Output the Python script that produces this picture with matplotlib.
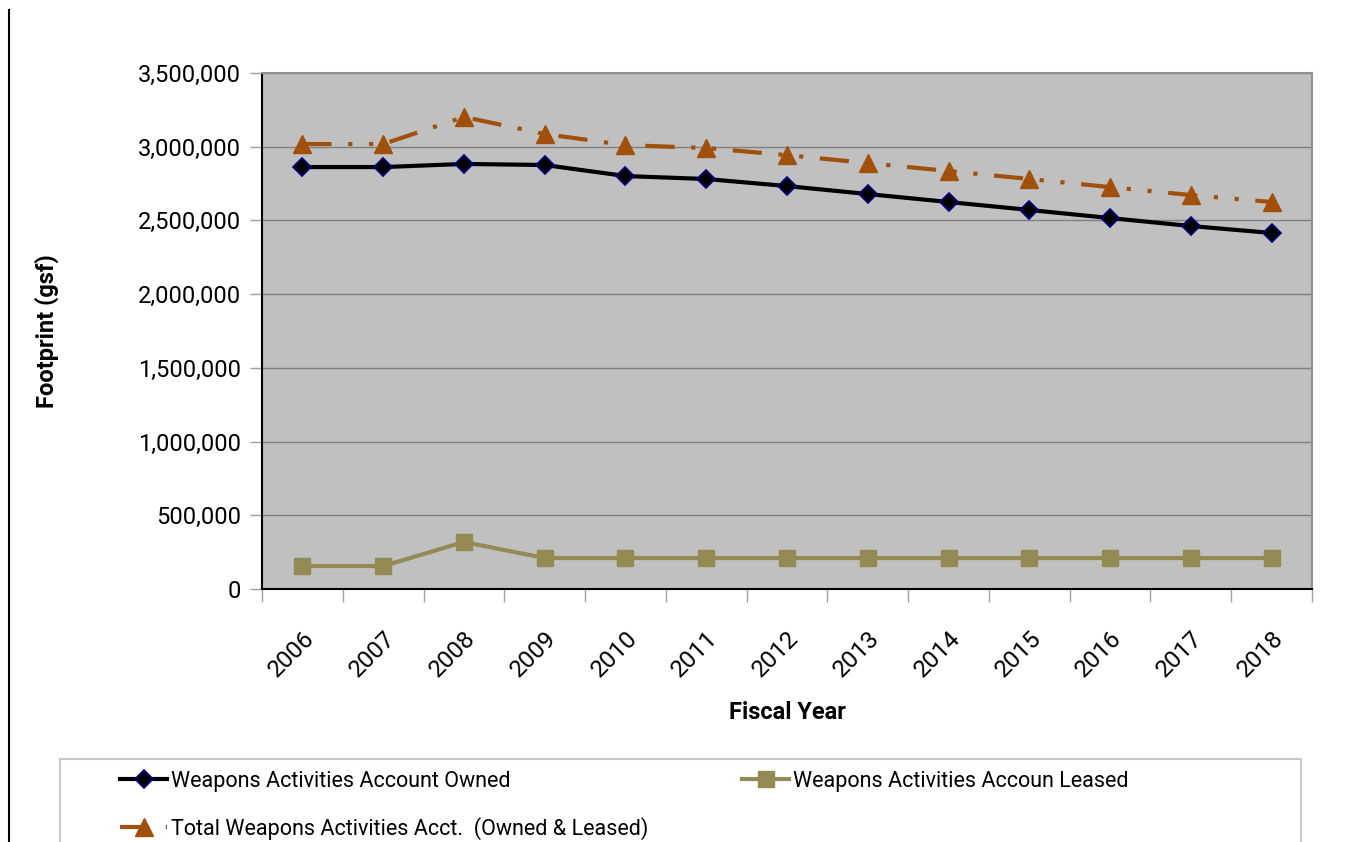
import matplotlib.pyplot as plt
import matplotlib.patches as patches
from matplotlib.ticker import FuncFormatter
import numpy as np

# dados
years = ['2006', '2007', '2008', '2009', '2010', '2011', '2012',
         '2013', '2014', '2015', '2016', '2017', '2018']
owned = [2862000, 2862000, 2883000, 2876000, 2801000, 2781000, 2733000,
         2679000, 2625000, 2571000, 2516000, 2462000, 2415000]
leased = [156000, 156000, 319000, 210000, 210000, 210000, 210000,
          210000, 210000, 210000, 210000, 210000, 210000]
total = [3018000, 3018000, 3202000, 3086000, 3011000, 2991000, 2943000,
         2889000, 2835000, 2781000, 2726000, 2672000, 2625000]

plt.rcParams['font.family'] = ['Roboto', 'DejaVu Sans']

fig = plt.figure(figsize=(13.51, 8.42), dpi=100)
ax = fig.add_axes([262 / 1351, 1 - 589 / 842, 1050 / 1351, 516 / 842])
ax.set_facecolor('#C0C0C0')

x = np.arange(len(years))

l_owned, = ax.plot(x, owned, color='black', linewidth=3, marker='D', markersize=9,
                   markerfacecolor='black', markeredgecolor='#000080', markeredgewidth=1.2,
                   label='Weapons Activities Account Owned', zorder=4)
l_leased, = ax.plot(x, leased, color='#948A54', linewidth=3, marker='s', markersize=11,
                    markerfacecolor='#948A54', markeredgecolor='#948A54',
                    label='Weapons Activities Accoun Leased', zorder=4)
l_total, = ax.plot(x, total, color='#A0500A', linewidth=3, marker='^', markersize=13,
                   markerfacecolor='#A0500A', markeredgecolor='#A0500A',
                   dashes=(7, 4, 1, 4, 1, 4),
                   label='Total Weapons Activities Acct.  (Owned & Leased)', zorder=4)

ax.set_xlim(-0.5, len(years) - 0.5)
ax.set_ylim(0, 3500000)
ax.set_yticks(np.arange(0, 3500001, 500000))
ax.yaxis.set_major_formatter(FuncFormatter(lambda v, p: f'{int(v):,}'))
ax.grid(True, axis='y', color='#808080', linewidth=1)
ax.set_axisbelow(True)

ax.set_xticks(x)
ax.set_xticklabels(years, rotation=45, ha='right', rotation_mode='anchor')
ax.set_xticks(np.arange(-0.5, len(years), 1), minor=True)
ax.tick_params(axis='x', which='major', length=0, pad=27, labelsize=17.5)
ax.tick_params(axis='x', which='minor', length=9, color='#A0A0A0', width=1)
ax.tick_params(axis='y', length=9, color='#A0A0A0', width=1, labelsize=17, pad=6)

for s in ['top', 'right']:
    ax.spines[s].set_color('#909090')
    ax.spines[s].set_linewidth(1.5)
for s in ['left', 'bottom']:
    ax.spines[s].set_color('black')
    ax.spines[s].set_linewidth(1.5)

ax.set_xlabel('Fiscal Year', fontsize=17, fontweight='bold', labelpad=14)
ax.set_ylabel('Footprint (gsf)', fontsize=17, fontweight='bold', labelpad=57)

# linha vertical à esquerda
fig.add_artist(plt.Line2D([9 / 1351, 9 / 1351], [0, 1 - 10 / 842], color='black', linewidth=1.5))

# caixa da legenda
fig.add_artist(patches.Rectangle((60 / 1351, -0.05), 1241 / 1351, 0.05 + 1 - 759 / 842,
                                 transform=fig.transFigure, facecolor='white',
                                 edgecolor='#C8C8C8', linewidth=1.5))

leg_opts = dict(loc='upper left', frameon=False, fontsize=15.5, handlelength=2.2,
                handletextpad=0.15, labelspacing=1.15, borderaxespad=0, borderpad=0)
leg1 = fig.legend(handles=[l_owned, l_total], bbox_to_anchor=(120 / 1351, 1 - 771 / 842), **leg_opts)
leg2 = fig.legend(handles=[l_leased], bbox_to_anchor=(742 / 1351, 1 - 771 / 842), **leg_opts)

fig.savefig('out.png', dpi=100)
